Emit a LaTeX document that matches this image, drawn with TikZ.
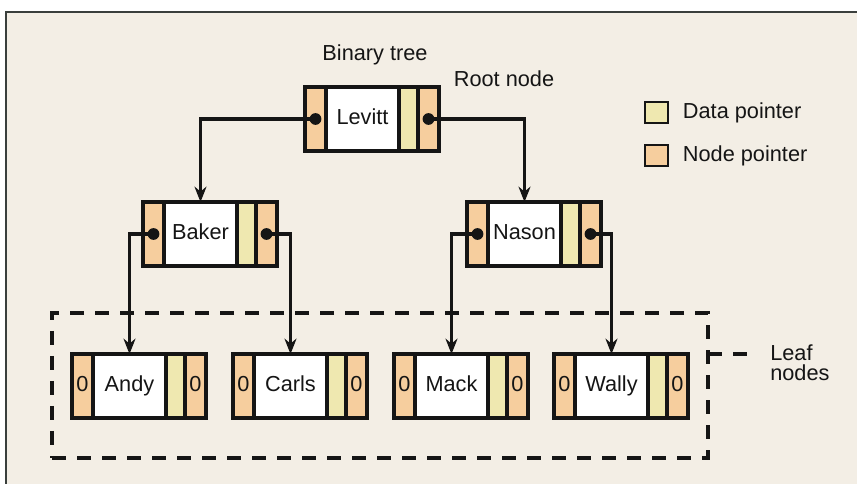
\documentclass[tikz,border=0pt]{standalone}
\usepackage{fontspec}
\setmainfont{Liberation Sans}
\usepackage{tikz}
\usetikzlibrary{arrows.meta, positioning}

\definecolor{paper}{HTML}{F3EEE5}
\definecolor{nodePtrColor}{HTML}{F6CE9E}
\definecolor{dataPtrColor}{HTML}{EFE8B0}
\definecolor{frameColor}{HTML}{3A3F3C}
\definecolor{inkColor}{HTML}{151515}

\newcommand\cellH{48pt}
\newcommand\ptrW{15.75pt}
\newcommand\nameW{54.75pt}
\newcommand\dataW{14.25pt}
\newcommand\dotR{4.4pt}
\newcommand\diagramFont{\fontsize{16.3}{18}\selectfont}

\tikzset{
    cell/.style={draw=inkColor, line width=2.3pt, minimum height=\cellH, inner sep=0pt, outer sep=0pt, font=\diagramFont, text=inkColor, text height=11.5pt, text depth=3pt},
    nodeptr/.style={cell, fill=nodePtrColor, minimum width=\ptrW},
    dataptr/.style={cell, fill=dataPtrColor, minimum width=\dataW},
    namecell/.style={cell, fill=white, minimum width=\nameW},
    keybox/.style={minimum width=17.25pt, minimum height=15.75pt, line width=2.2pt},
    ptrline/.style={draw=inkColor, line width=2.7pt, -{Stealth[length=11.5pt, width=9pt]}},
    region/.style={draw=inkColor, line width=2.4pt, dash pattern=on 10.5pt off 8.25pt},
    textlabel/.style={font=\diagramFont, text=inkColor, inner sep=0pt},
}

% one record: node pointer | name | data pointer | node pointer
\newcommand{\treeRecord}[5]{
    \node[nodeptr, anchor=north west] (#1-l) at (#2,#3) {#5};
    \node[namecell, right=0pt of #1-l] (#1) {#4};
    \node[dataptr, right=0pt of #1] (#1-d) {};
    \node[nodeptr, right=0pt of #1-d] (#1-r) {#5};
}
\newcommand{\pointer}[2]{
    \fill[inkColor] (#1.center) circle (\dotR);
    \draw[ptrline] (#1.center) -| (#2.north);
}

\begin{document}
\begin{tikzpicture}[x=0.75pt, y=-0.75pt]
    \useasboundingbox (0,0) rectangle (857,484);
    \fill[paper] (6,12) rectangle (857,484);
    \draw[frameColor, line width=1.5pt] (6,484) -- (6,12) -- (857,12);

    \node[textlabel] (title) at (375,55) {Binary tree};
    \node[textlabel] (rootText) at (504,79) {Root node};

    % legend
    \node[dataptr, keybox, anchor=north west] (dataKey) at (645,102) {};
    \node[textlabel, right=11pt of dataKey] (dataText) {Data pointer};
    \node[nodeptr, keybox, anchor=north west] (nodeKey) at (645,145) {};
    \node[textlabel, right=11pt of nodeKey] (nodeText) {Node pointer};

    % leaf region
    \node[region, minimum width=492pt, minimum height=108.75pt, inner sep=0pt, outer sep=0pt, anchor=north west] (leafBox) at (52,313) {};
    \node[textlabel, align=left, anchor=north west, font=\fontsize{16.3}{15}\selectfont] (leafText) at (770,345) {Leaf\\nodes};
    \coordinate (leafEnd) at (752,354);
    \draw[region] (leafBox.east |- leafEnd) -- (leafEnd);

    \treeRecord{levitt}{305}{87}{Levitt}{}
    \treeRecord{baker}{143}{202}{Baker}{}
    \treeRecord{nason}{467}{202}{Nason}{}
    \treeRecord{andy}{72}{354}{Andy}{0}
    \treeRecord{carls}{233}{354}{Carls}{0}
    \treeRecord{mack}{394}{354}{Mack}{0}
    \treeRecord{wally}{554}{354}{Wally}{0}

    \pointer{levitt-l}{baker}
    \pointer{levitt-r}{nason}
    \pointer{baker-l}{andy}
    \pointer{baker-r}{carls}
    \pointer{nason-l}{mack}
    \pointer{nason-r}{wally}
\end{tikzpicture}
\end{document}
